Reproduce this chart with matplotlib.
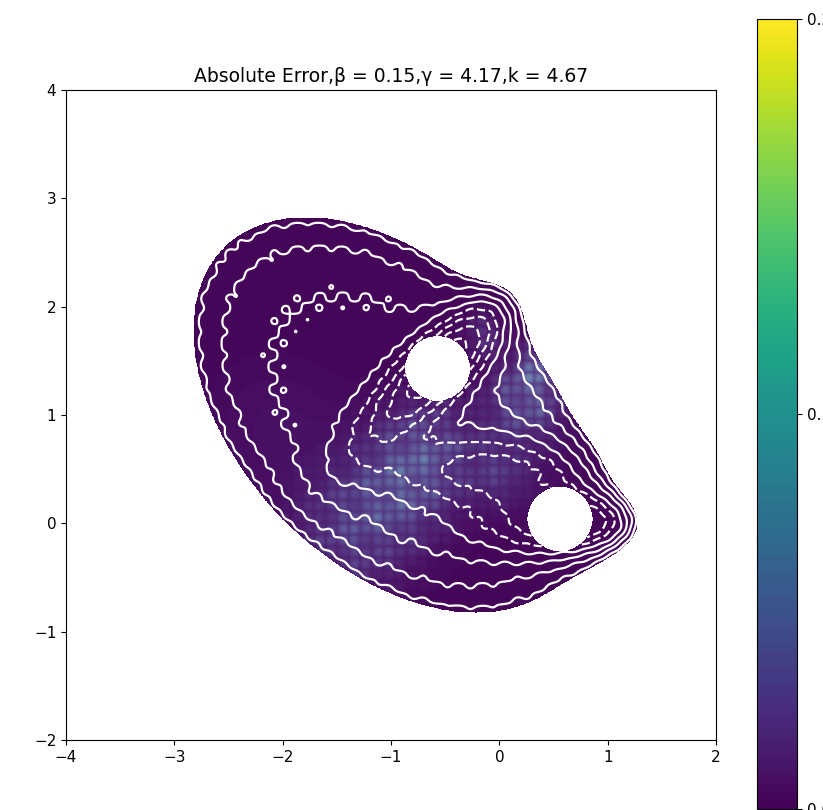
import numpy as np
import matplotlib.pyplot as plt

# Mueller-Brown potential parameters
MB_A = [-200, -100, -170, 15]
MB_a = [-1, -1, -6.5, 0.7]
MB_b = [0, 0, 11, 0.6]
MB_c = [-10, -10, -6.5, 0.7]
MB_X0 = [1, 0, -0.5, -1]
MB_Y0 = [0, 0.5, 1.5, 1]

BETA = 0.15
GAMMA = 4.17
K = 4.67

# removed discs around the two minima and the outer cutoff
CENTER_A = (-0.57, 1.43)
CENTER_B = (0.56, 0.04)
RADIUS = 0.3
V_CUT = 100

LINE_LEVELS = [-150, -120, -90, -60, -30, 0, 30, 60, 90]

# spotty error patches
HOT_X = [-0.7, 0.25, -1.35, -0.15, 0.0, -0.9, 0.35]
HOT_Y = [0.7, 1.15, -0.1, 1.75, 0.45, 0.3, 1.45]
HOT_S = [0.32, 0.24, 0.38, 0.14, 0.2, 0.3, 0.15]
HOT_AMP = [0.036, 0.045, 0.028, 0.022, 0.018, 0.026, 0.03]

# smooth low-level error patches
SMOOTH_X = [-2.1, -1.2, 0.1]
SMOOTH_Y = [0.9, 0.2, 0.6]
SMOOTH_S = [0.45, 0.5, 0.4]
SMOOTH_AMP = [0.006, 0.008, 0.008]
ERR_BASE = 0.002


def mueller(x, y):
    v = np.zeros_like(x)
    for A, a, b, c, x0, y0 in zip(MB_A, MB_a, MB_b, MB_c, MB_X0, MB_Y0):
        dx, dy = x - x0, y - y0
        v += A * np.exp(a * dx**2 + b * dx * dy + c * dy**2)
    return v


def bumps(x, y, cx, cy, cs, amps):
    out = np.zeros_like(x)
    for hx, hy, hs, amp in zip(cx, cy, cs, amps):
        out += amp * np.exp(-((x - hx)**2 + (y - hy)**2) / (2 * hs**2))
    return out


xs = np.linspace(-3.2, 1.6, 700)
ys = np.linspace(-1.2, 3.2, 700)
X, Y = np.meshgrid(xs, ys)

rugged = np.sin(2 * np.pi * K * X) * np.sin(2 * np.pi * K * Y)
V_mb = mueller(X, Y)
V = V_mb + GAMMA * rugged

outside = (V_mb > V_CUT)
outside |= (X - CENTER_A[0])**2 + (Y - CENTER_A[1])**2 < RADIUS**2
outside |= (X - CENTER_B[0])**2 + (Y - CENTER_B[1])**2 < RADIUS**2

mod = 0.6 + 0.4 * np.sin(7.3 * X + 11.1 * Y) * np.cos(13.7 * X - 5.2 * Y)
texture = 0.3 + 0.7 * np.abs(rugged)**0.7 * mod
hot = bumps(X, Y, HOT_X, HOT_Y, HOT_S, HOT_AMP)
spots = hot * texture
err = ERR_BASE + bumps(X, Y, SMOOTH_X, SMOOTH_Y, SMOOTH_S, SMOOTH_AMP) + spots

err_m = np.ma.masked_where(outside, err)
V_m = np.ma.masked_where(outside, V)

fig = plt.figure(figsize=(8.23, 8.10), dpi=100)
ax = fig.add_axes([66 / 823, 70 / 810, 650 / 823, 650 / 810])
cax = fig.add_axes([757 / 823, 1 / 810, 40 / 823, 790 / 810])

cf = ax.contourf(X, Y, err_m, levels=np.linspace(0, 0.2, 101), cmap="viridis", zorder=1)

# light haze over the spots
haze = np.zeros(X.shape + (4,))
haze[..., :3] = 1.0
haze[..., 3] = np.where(outside, 0.0, np.clip(spots / 0.045, 0, 1) * 0.25)
ax.imshow(haze, origin="lower", extent=(xs[0], xs[-1], ys[0], ys[-1]),
          interpolation="bilinear", zorder=1.5, aspect="auto")

ax.contour(X, Y, V_m, levels=LINE_LEVELS, colors="white", linewidths=1.6, zorder=2)

ax.set_xlim(-4, 2)
ax.set_ylim(-2, 4)
ax.set_aspect("equal")
ax.set_xticks(range(-4, 3))
ax.set_yticks(range(-2, 5))
ax.tick_params(labelsize=11)
ax.set_title(f"Absolute Error,\u03b2 = {BETA},\u03b3 = {GAMMA},k = {K}", fontsize=13.5)

cb = fig.colorbar(cf, cax=cax, ticks=[0.0, 0.1, 0.2])
cb.ax.tick_params(labelsize=11)

fig.savefig("out.png", dpi=100)
